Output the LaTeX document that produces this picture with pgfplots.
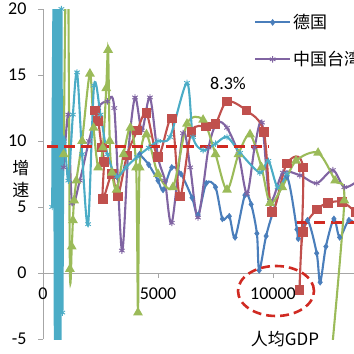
\documentclass[border=0pt]{standalone}
\usepackage{fontspec}
\setmainfont{Carlito}
\newfontfamily\cjk{Noto Sans CJK SC}
\usepackage{pgfplots}
\pgfplotsset{compat=1.18}
\definecolor{cblue}{HTML}{4A7EBB}
\definecolor{cred}{HTML}{C0504D}
\definecolor{cgreen}{HTML}{9BBB59}
\definecolor{cpurple}{HTML}{8064A2}
\definecolor{ccyan}{HTML}{4BACC6}
\definecolor{dred}{HTML}{D02A22}
\begin{document}
\begin{tikzpicture}
\begin{axis}[
  scale only axis, width=322pt, height=330pt, at={(43pt,15pt)}, anchor=south west,
  xmin=0, xmax=14000, ymin=-5, ymax=20,
  axis x line=middle, axis y line=left,
  hide obscured x ticks=false, hide obscured y ticks=false,
  scaled x ticks=false, scaled y ticks=false,
  axis line style={-, color=gray!70, line width=0.8pt},
  xtick={0,5000,10000}, xticklabels={0,5000,10000},
  ytick={-5,0,5,10,15,20}, yticklabels={-5,0,5,10,15,20},
  tick align=outside, major tick length=5pt, tick style={gray!70, line width=0.8pt},
  tick label style={font=\fontsize{18}{20}\selectfont},
  yticklabel style={xshift=-8pt},
  xticklabel style={yshift=-6pt},
  clip=true,
  legend style={at={(axis description cs:0.655,0.99)}, anchor=north west, draw=none, fill=none,
    font=\cjk\fontsize{17}{19}\selectfont, row sep=17pt, inner sep=0pt},
  legend cell align=left,
  legend image code/.code={\draw[#1, mark=none] (0pt,0pt) -- (35pt,0pt); \draw[#1] plot coordinates {(17.5pt,0pt)};},
  every axis plot/.append style={line width=2.1pt, smooth, tension=0.5},
]
% 德国
\addplot[color=cblue, mark=diamond*, mark size=3pt, mark options={solid, fill=cblue, line width=0.5pt}] coordinates {
(4200,9.0)(4600,8.2)(5000,7.0)(5220,6.3)(5600,8.0)(6000,7.5)(6480,5.7)(6740,4.4)(7100,6.8)(7500,6.5)(7800,4.1)(8100,4.3)(8350,2.7)(8780,5.9)(9050,5.2)(9300,3.0)(9400,0.2)(9700,2.8)(10040,4.8)(10600,7.3)(11040,3.3)(11100,2.6)(11500,4.0)(11900,1.5)(12050,-0.7)(12300,2.0)(12650,4.1)(12900,2.7)(13300,4.0)(13700,3.5)};
\addlegendentry{德国}
% 中国台湾
\addplot[color=cpurple, mark=asterisk, mark size=3.2pt, mark options={solid, line width=0.9pt}] coordinates {
(900,8)(1100,12)(1260,5.3)(1600,7)(2000,10)(2400,12.5)(2800,13.0)(3100,12.5)(3430,1.7)(3700,9)(4000,13.3)(4300,10.8)(4650,13.3)(5000,8.8)(5300,7.0)(5600,3.8)(6090,10.6)(6400,8)(6740,4.2)(7200,9.5)(7570,11.4)(8000,11.0)(8500,9)(8870,6.0)(9200,9.5)(9520,11.4)(9870,5.5)(10430,7.6)(11170,7.4)(11900,6.8)(12600,7.8)(13100,6.5)(13700,7)};
\addlegendentry{中国台湾}
% red
\addplot[forget plot, color=cred, mark=square*, mark size=3.8pt, mark options={solid, fill=cred}] coordinates {
(2250,12.3)(2400,11.5)(2550,9.5)(2650,8.4)(2600,5.6)(3000,7.5)(3250,5.8)(3650,8.9)(4100,10.8)(4500,12.1)(5000,8.8)(5600,11.7)(5950,5.8)(6450,10.7)(7100,11.1)(7500,11.3)(8000,13.0)(8850,12.3)(9600,10.7)(9950,4.6)(10600,8.3)(11300,8.0)(11150,-1.3)(11300,3.1)(11900,4.8)(12400,5.3)(13000,5.4)(13600,4.6)};
% green
\addplot[forget plot, color=cgreen, mark=triangle*, mark size=3.6pt, mark options={solid, fill=cgreen}] coordinates {
(900,9)(1000,24)(1090,24)(1170,0.3)(1250,2)(1300,4)(1350,5.5)(1450,7)(1700,10)(2040,15.1)(2200,11)(2400,8)(2600,9.5)(2750,14)(2830,16.9)(2900,10)(3000,7.6)(3200,6.3)(3500,9)(3800,11)(4050,8)(4130,-3)(4200,8)(4500,10.5)(5000,7.5)(5650,6.5)(6260,11.3)(6960,11.6)(7500,9)(8000,6.3)(8500,9)(9000,10.5)(9500,8)(9870,5.3)(10400,6.5)(11000,8.5)(11960,9.1)(12700,7.0)(13100,5.5)(12500,-7)};
% cyan
\addplot[forget plot, color=ccyan, mark=asterisk, mark size=3.2pt, mark options={solid, line width=0.9pt}] coordinates {
(400,5)(470,22)(520,-6)(560,22)(600,-6)(640,22)(680,-6)(720,22)(760,-6)(800,20)(840,-3)(900,10)(1100,7)(1300,12)(1480,15.2)(1700,9)(1960,3.7)(2220,14.2)(2500,12)(2800,9)(3200,7.3)(3600,8)(4090,8.8)(4600,9.5)(5000,10)(5520,10.3)(6260,14.4)(6520,10.3)(6960,9.3)(7500,9.8)(8000,10.3)(8570,9.1)(9430,7.6)(9800,8.5)(10200,6.5)(10600,7.5)};
% red dashed averages
\addplot[forget plot, color=dred, line width=3pt, dash pattern=on 11pt off 6pt, sharp plot] coordinates {(170,9.6)(9780,9.6)};
\addplot[forget plot, color=dred, line width=3pt, dash pattern=on 11pt off 6pt, sharp plot] coordinates {(11050,3.86)(14000,3.86)};
\end{axis}
\draw[dred, line width=2.6pt, dash pattern=on 9pt off 5pt] (276pt,63pt) ellipse [x radius=38pt, y radius=25pt];
\node[font=\fontsize{18}{20}\selectfont] at (228pt,271pt) {8.3\%};
\node[font=\cjk\fontsize{17}{22}\selectfont, align=center] at (21pt,175pt) {增\\速};
\node[font=\cjk\fontsize{17}{20}\selectfont] at (285pt,15pt) {人均GDP};
\pgfresetboundingbox
\useasboundingbox (0pt,0pt) rectangle (354pt,354pt);
\end{tikzpicture}
\end{document}
